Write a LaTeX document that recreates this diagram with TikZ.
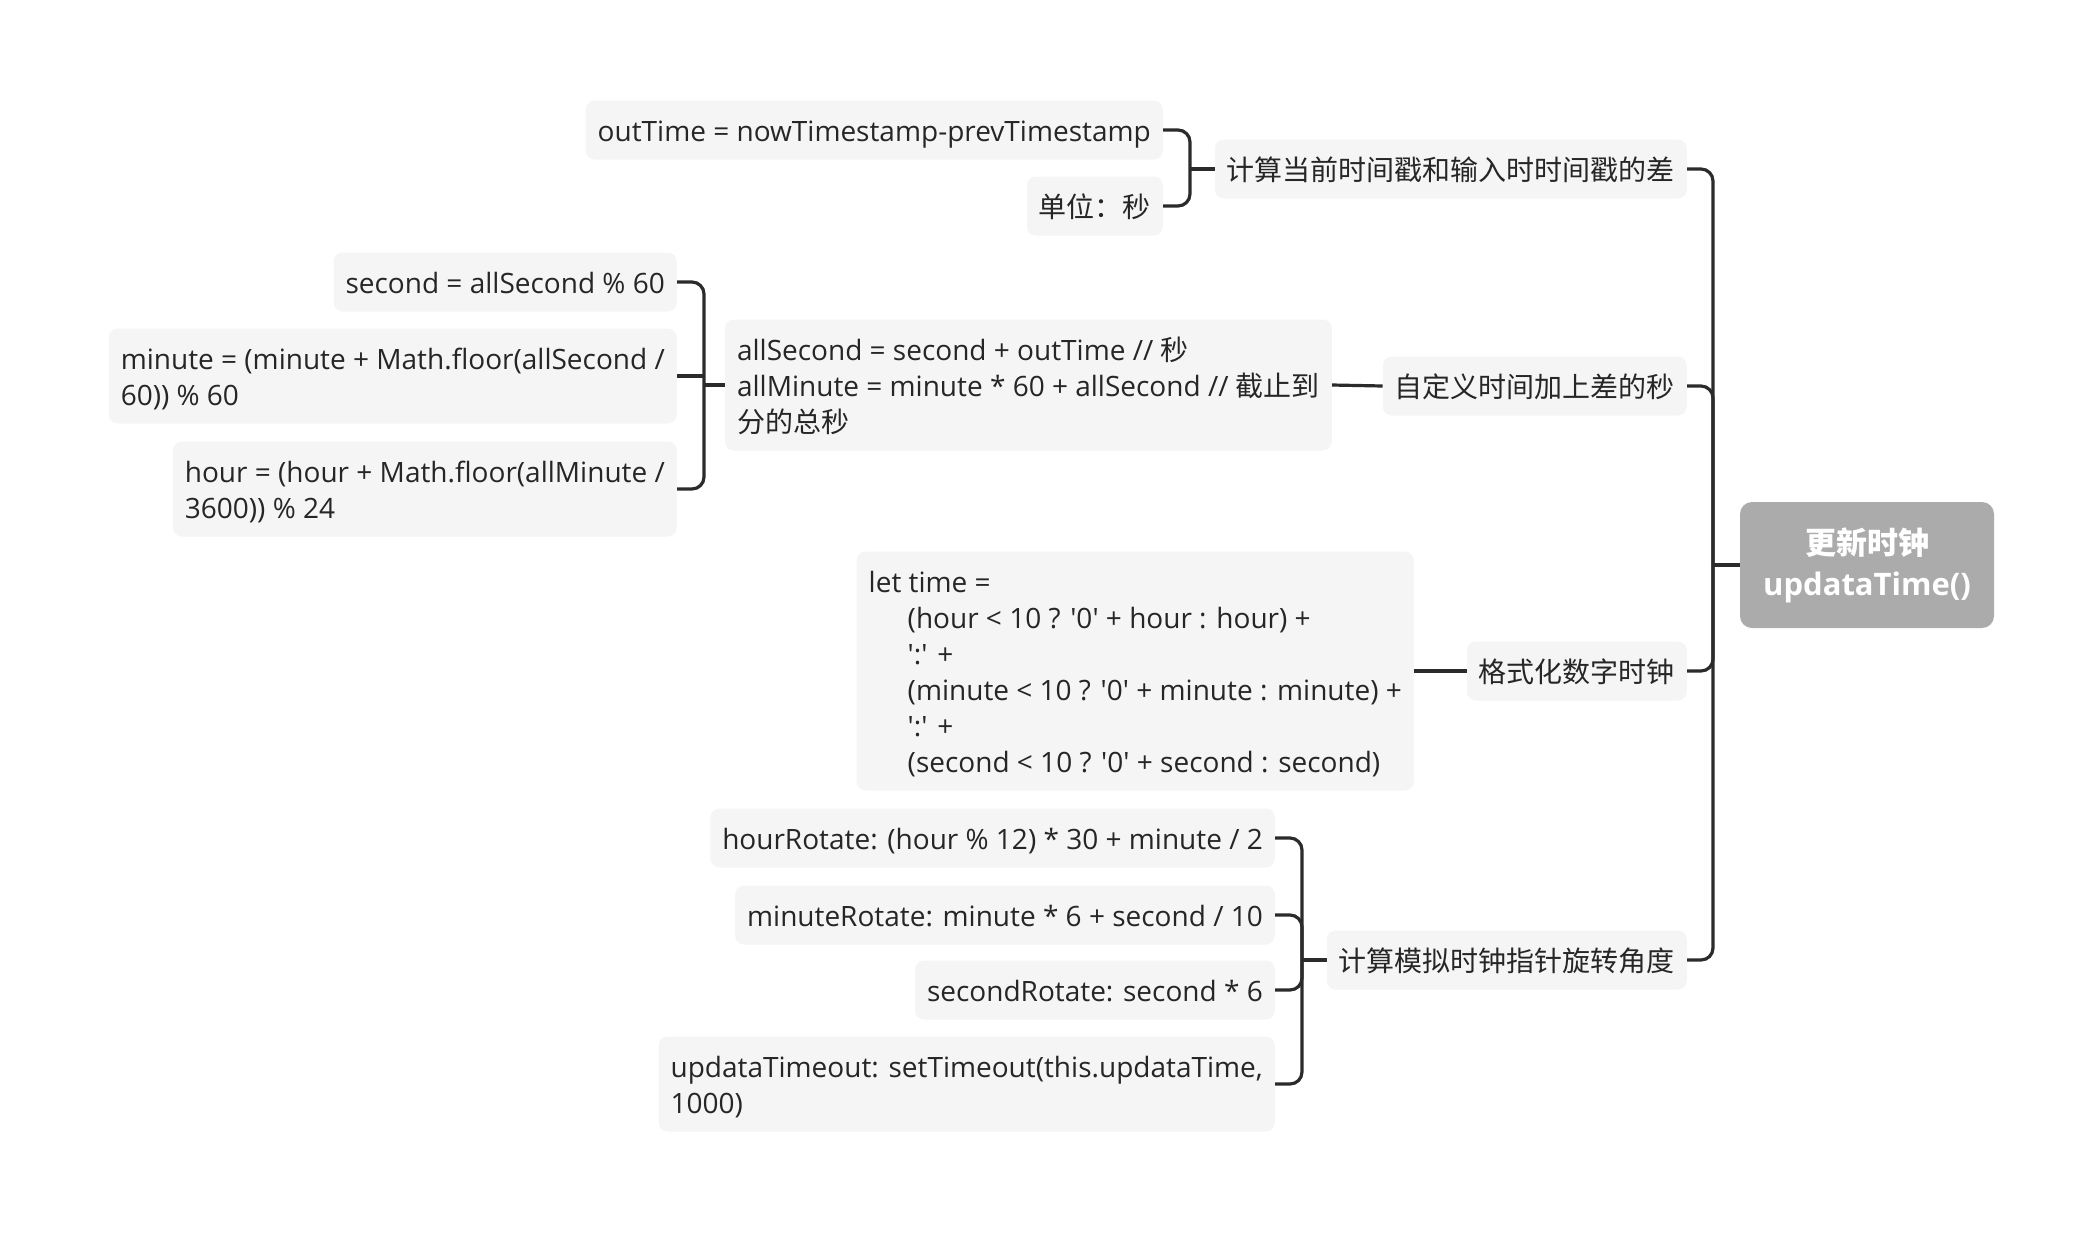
\documentclass[tikz,border=0pt]{standalone}
\usepackage{fontspec}
\setmainfont{Open Sans}
\newfontfamily\cjk{Noto Sans CJK SC}
\usetikzlibrary{positioning}
\definecolor{boxgray}{HTML}{F5F5F5}
\definecolor{rootgray}{HTML}{ABABAB}
\definecolor{textgray}{HTML}{262626}
\definecolor{linegray}{HTML}{2B2B2B}
\newcommand{\quo}[1]{\textquotesingle#1\textquotesingle}
\newcommand{\firstline}{\rule{0pt}{29pt}}

\begin{document}
\begin{tikzpicture}[
    x=1pt, y=-1pt,
    topic/.style={fill=boxgray, rounded corners=9pt, text=textgray, anchor=east, align=left, inner xsep=12pt, inner ysep=11.5pt, font=\fontsize{28}{36}\selectfont, execute at begin node={\rule{0pt}{29pt}}, execute at end node={\rule[-7pt]{0pt}{7pt}}},
    root/.style={fill=rootgray, rounded corners=12pt, text=white, align=center, minimum width=254pt, minimum height=126pt, font=\bfseries\fontsize{31}{41}\selectfont},
    link/.style={draw=linegray, line width=3.2pt, rounded corners=12pt}
]
\useasboundingbox (0,0) rectangle (2094,1232);

% Root
\node[root] (R) at (1867,565) {{\cjk 更新时钟}\\updataTime()};

% Main topics
\node[topic] (T1) at (1687,169) {{\cjk 计算当前时间戳和输入时时间戳的差}};
\node[topic] (T2) at (1687,386) {{\cjk 自定义时间加上差的秒}};
\node[topic] (T3) at (1687,671) {{\cjk 格式化数字时钟}};
\node[topic] (T4) at (1687,960) {{\cjk 计算模拟时钟指针旋转角度}};

% Subtopics
\node[topic] (A1) at (1163,130) {outTime = nowTimestamp-prevTimestamp};
\node[topic] (A2) at (1163,206) {{\cjk 单位：秒}};

\node[topic] (B0) at (1332,385) {\firstline allSecond = second + outTime // {\cjk 秒}\\allMinute = minute * 60 + allSecond // {\cjk 截止到}\\{\cjk 分的总秒}};
\node[topic] (B1) at (677,282) {second = allSecond \% 60};
\node[topic] (B2) at (677,376) {\firstline minute = (minute + Math.floor(allSecond /\\60)) \% 60};
\node[topic] (B3) at (677,489) {\firstline hour = (hour + Math.floor(allMinute /\\3600)) \% 24};

\node[topic] (C0) at (1414,671) {\firstline let time =\\
    \hspace*{39pt}(hour < 10 ? \quo{0} + hour : hour) +\\
    \hspace*{39pt}\quo{:} +\\
    \hspace*{39pt}(minute < 10 ? \quo{0} + minute : minute) +\\
    \hspace*{39pt}\quo{:} +\\
    \hspace*{39pt}(second < 10 ? \quo{0} + second : second)};

\node[topic] (D1) at (1275,838) {hourRotate: (hour \% 12) * 30 + minute / 2};
\node[topic] (D2) at (1275,915) {minuteRotate: minute * 6 + second / 10};
\node[topic] (D3) at (1275,990) {secondRotate: second * 6};
\node[topic] (D4) at (1275,1084) {\firstline updataTimeout: setTimeout(this.updataTime,\\1000)};

% Bracket points
\coordinate (S) at (1713,565);
\coordinate (SA) at (1190,169);
\coordinate (SB) at (704,385);
\coordinate (SD) at (1302,960);

% Connectors
\draw[link] (R.west) -- (S);
\foreach \t in {T1,T2,T3,T4}
    \draw[link] (S) |- (\t.east);

\draw[link] (T1.west) -- (SA);
\draw[link] (SA) |- (A1.east);
\draw[link] (SA) |- (A2.east);

\draw[link] (T2.west) -- (B0.east);
\draw[link] (B0.west) -- (SB);
\draw[link] (SB) |- (B1.east);
\draw[link] (B2.east) -- (B2.east -| SB);
\draw[link] (SB) |- (B3.east);

\draw[link] (T3.west) -- (C0.east);

\draw[link] (T4.west) -- (SD);
\foreach \d in {D1,D2,D3,D4}
    \draw[link] (SD) |- (\d.east);

\end{tikzpicture}
\end{document}
